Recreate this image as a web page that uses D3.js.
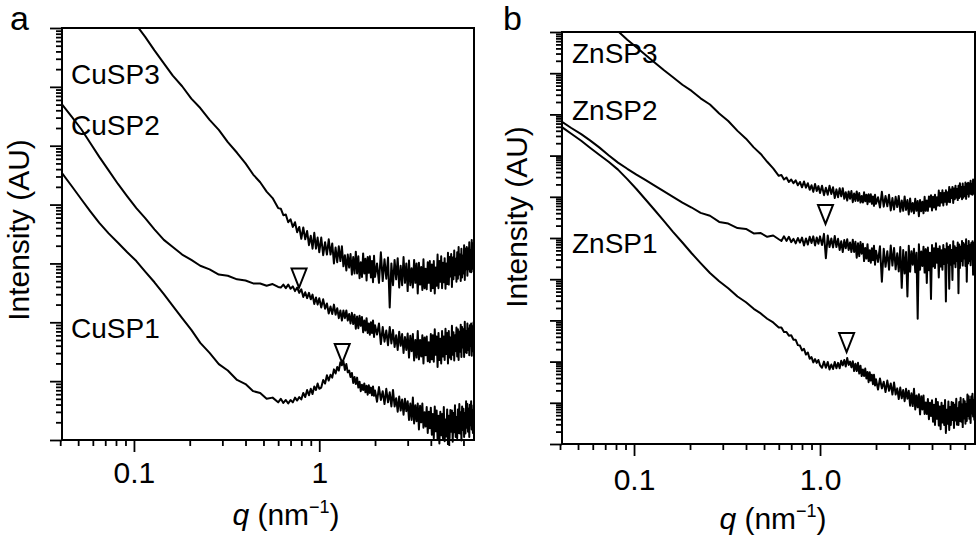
<!DOCTYPE html>
<html><head><meta charset="utf-8">
<script src="https://cdn.jsdelivr.net/npm/d3@7"></script>
<style>body{margin:0;background:#fff}svg{display:block}</style>
</head><body><svg id="c" width="980" height="536"></svg>
<script>
// ---------- DATA (q in nm^-1; intensity stored as log10 of arbitrary units) ----------
const qGrid = [0.041,0.046,0.052,0.058,0.065,0.073,0.082,0.092,0.103,0.115,0.129,0.145,0.162,0.182,0.204,0.228,0.256,0.287,0.321,0.36,0.4,0.44,0.48,0.52,0.56,0.6,
0.62,0.64,0.66,0.68,0.7,0.72,0.74,0.76,0.78,0.8,0.82,0.84,0.86,0.88,0.9,0.92,0.94,0.96,0.98,1.0,
1.025,1.05,1.075,1.1,1.125,1.15,1.175,1.2,1.225,1.25,1.275,1.3,1.325,1.35,1.375,1.4,1.425,1.45,1.475,1.5,1.525,1.55,1.575,1.6,1.625,1.65,1.675,1.7,1.725,1.75,1.775,1.8,1.825,1.85,1.875,1.9,1.925,1.95,1.975,2.0,
2.05,2.1,2.15,2.2,2.25,2.3,2.35,2.4,2.45,2.5,2.55,2.6,2.65,2.7,2.75,2.8,2.85,2.9,2.95,3.0,3.05,3.1,3.15,3.2,3.25,3.3,3.35,3.4,3.45,3.5,3.55,3.6,3.65,3.7,3.75,3.8,3.85,3.9,3.95,4.0,
4.05,4.1,4.15,4.2,4.25,4.3,4.35,4.4,4.45,4.5,4.55,4.6,4.65,4.7,4.75,4.8,4.85,4.9,4.95,5.0,5.05,5.1,5.15,5.2,5.25,5.3,5.35,5.4,5.45,5.5,5.55,5.6,5.65,5.7,5.75,5.8,5.85,5.9,5.95,6.0,
6.05,6.1,6.15,6.2,6.25,6.3,6.35,6.4,6.45,6.5,6.55,6.6,6.65,6.7,6.75,6.8];

const cuSP3 = [null,null,null,null,null,null,null,null,
7.05,6.85,6.62,6.40,6.19,6.01,5.80,5.64,5.44,5.27,5.06,4.88,4.70,4.51,4.38,4.22,4.11,3.94,
3.93,3.82,3.83,3.70,3.75,3.62,3.70,3.53,3.62,3.42,3.61,3.41,3.55,3.31,3.47,3.25,3.52,3.25,3.44,3.19,
3.44,3.14,3.36,3.15,3.41,3.15,3.34,3.00,3.27,3.02,3.29,3.04,3.29,2.95,3.14,2.88,3.15,2.93,3.16,2.81,
3.11,2.83,3.20,2.83,3.12,2.75,3.02,2.77,3.17,2.83,3.08,2.71,3.11,2.84,3.12,2.76,3.04,2.68,3.13,2.77,
3.00,2.67,3.19,2.70,3.07,2.74,3.10,2.25,3.00,2.63,3.06,2.73,3.09,2.59,2.96,2.63,3.11,2.67,3.00,2.53,
3.05,2.63,2.92,2.59,3.06,2.67,3.00,2.49,3.01,2.64,2.94,2.55,3.07,2.58,2.91,2.56,3.02,2.67,3.04,2.53,
2.98,2.58,3.04,2.49,2.93,2.62,3.15,2.58,3.04,2.69,3.12,2.58,3.01,2.68,3.09,2.57,3.00,2.65,3.18,2.64,
3.11,2.78,3.16,2.60,3.10,2.73,3.22,2.80,3.08,2.69,3.19,2.74,3.28,2.81,3.15,2.70,3.25,2.76,3.13,2.83,
3.31,2.72,3.25,2.90,3.28,2.79,3.25,2.90,3.36,2.86,3.22,2.85,3.40,2.91,3.34,2.85];

const cuSP2 = [5.70,5.50,5.28,5.05,4.81,4.58,4.35,4.14,3.94,3.77,3.58,3.40,3.28,3.15,3.06,2.96,2.90,2.81,2.79,2.73,2.71,2.66,2.66,2.62,2.65,2.60,
2.59,2.64,2.58,2.64,2.57,2.61,2.53,2.59,2.50,2.56,2.43,2.51,2.41,2.50,2.39,2.47,2.31,2.42,2.30,2.41,
2.25,2.39,2.23,2.32,2.15,2.27,2.14,2.30,2.13,2.24,2.07,2.20,2.03,2.20,2.07,2.20,2.03,2.14,1.98,2.16,
1.97,2.13,1.89,2.10,1.90,2.11,1.94,2.09,1.83,2.03,1.86,2.07,1.82,1.98,1.79,2.00,1.82,2.03,1.75,1.95,
1.79,1.98,1.63,1.92,1.67,1.86,1.61,1.92,1.64,1.87,1.58,1.78,1.53,1.84,1.60,1.80,1.48,1.75,1.53,1.81,
1.40,1.77,1.51,1.80,1.35,1.70,1.40,1.85,1.37,1.70,1.42,1.78,1.30,1.74,1.44,1.76,1.34,1.66,1.32,1.80,
1.37,1.78,1.33,1.88,1.45,1.76,1.24,1.82,1.36,1.72,1.30,1.85,1.42,1.76,1.36,1.89,1.46,1.82,1.30,1.85,
1.40,1.74,1.37,1.94,1.45,1.83,1.35,1.78,1.51,1.91,1.42,1.88,1.36,1.84,1.50,1.96,1.41,1.92,1.57,1.88,
1.41,2.01,1.49,1.85,1.48,1.98,1.53,1.89,1.44,1.95,1.60,1.98,1.43,1.93,1.51,2.01];

const cuSP1 = [4.53,4.32,4.09,3.89,3.69,3.51,3.35,3.19,3.04,2.86,2.68,2.48,2.28,2.07,1.87,1.65,1.48,1.29,1.18,1.02,0.95,0.83,0.80,0.70,0.72,0.64,
0.70,0.63,0.68,0.62,0.68,0.64,0.72,0.67,0.73,0.69,0.80,0.73,0.85,0.76,0.87,0.78,0.91,0.85,0.96,0.87,
0.89,1.02,0.96,1.10,1.01,1.11,1.06,1.20,1.13,1.24,1.18,1.32,1.27,1.34,1.19,1.29,1.15,1.18,1.07,1.14,
0.97,1.07,0.95,1.06,0.89,0.99,0.83,0.94,0.85,0.96,0.81,0.92,0.77,0.93,0.80,0.89,0.76,0.91,0.75,0.84,
0.65,0.90,0.68,0.83,0.61,0.87,0.64,0.81,0.57,0.85,0.57,0.71,0.48,0.74,0.50,0.69,0.43,0.70,0.49,0.66,
0.34,0.62,0.34,0.72,0.28,0.59,0.32,0.62,0.18,0.58,0.30,0.62,0.21,0.47,0.23,0.56,0.12,0.48,0.20,0.55,
0.09,0.44,0.03,0.57,0.15,0.50,0.01,0.41,-0.06,0.48,0.08,0.44,0.03,0.56,-0.02,0.35,0.06,0.52,-0.08,0.41,
0.03,0.51,0.14,0.50,-0.03,0.46,0.13,0.59,0.05,0.39,0.03,0.52,0.12,0.61,0.11,0.47,-0.01,0.57,0.17,0.53,
0.05,0.46,0.11,0.66,0.21,0.61,0.14,0.53,0.05,0.60,0.25,0.66,0.18,0.51,0.12,0.60];

const znSP3 = [null,null,null,null,null,null,
10.02,9.81,9.63,9.45,9.26,9.07,8.90,8.72,8.57,8.39,8.24,8.02,7.84,7.60,7.41,7.20,7.04,6.85,6.69,6.51,
6.53,6.42,6.47,6.36,6.42,6.33,6.40,6.28,6.36,6.23,6.37,6.22,6.33,6.17,6.28,6.12,6.31,6.14,6.26,6.09,
6.27,6.04,6.22,6.05,6.27,6.07,6.23,5.97,6.18,5.99,6.21,6.01,6.21,5.95,6.11,5.91,6.13,5.95,6.14,5.87,
6.08,5.90,6.13,5.90,6.09,5.86,6.02,5.86,6.11,5.89,6.05,5.82,6.06,5.88,6.06,5.83,6.01,5.78,6.05,5.83,
5.99,5.74,6.12,5.76,6.02,5.77,6.05,5.67,5.97,5.69,6.00,5.75,6.02,5.64,5.91,5.66,6.01,5.68,5.92,5.57,
5.96,5.64,5.85,5.60,5.95,5.66,5.90,5.53,5.92,5.65,5.88,5.60,6.00,5.66,5.91,5.66,6.01,5.76,6.04,5.67,
6.00,5.74,6.05,5.69,5.99,5.79,6.15,5.78,6.09,5.86,6.16,5.79,6.09,5.88,6.16,5.81,6.11,5.88,6.24,5.87,
6.18,5.97,6.24,5.85,6.20,5.94,6.27,5.98,6.19,5.92,6.27,5.97,6.33,6.01,6.24,5.94,6.32,5.98,6.23,6.02,
6.35,5.95,6.31,6.07,6.34,6.00,6.32,6.08,6.39,6.06,6.31,6.05,6.42,6.08,6.38,6.04];

const znSP2 = [7.82,7.67,7.52,7.37,7.20,7.01,6.83,6.68,6.54,6.41,6.27,6.13,6.00,5.86,5.74,5.61,5.54,5.39,5.35,5.24,5.22,5.11,5.12,5.03,5.06,4.97,
4.93,5.04,4.93,5.03,4.90,4.98,4.87,5.00,4.89,5.01,4.82,4.99,4.84,5.03,4.88,5.04,4.82,5.01,4.86,5.04,
4.83,5.10,4.51,5.06,4.78,4.99,4.77,5.05,4.78,4.98,4.71,4.92,4.66,4.95,4.75,4.97,4.71,4.89,4.66,4.96,
4.66,4.91,4.52,4.87,4.56,4.90,4.62,4.86,4.44,4.76,4.50,4.85,4.44,4.70,4.40,4.75,4.46,4.81,4.35,4.69,
4.42,4.80,3.94,4.74,4.30,4.68,4.23,4.82,4.33,4.76,4.24,4.63,4.19,4.78,3.79,4.71,4.14,4.66,3.58,4.81,
4.18,4.68,4.35,4.74,4.17,4.64,3.04,4.85,4.23,4.67,4.32,4.79,4.16,4.73,3.91,4.77,4.22,4.64,3.52,4.83,
4.31,4.75,4.27,4.87,4.40,4.74,4.04,4.80,4.31,4.70,4.23,4.83,4.37,4.73,3.46,4.87,4.40,4.79,3.77,4.83,
4.35,4.71,3.98,4.92,4.38,4.80,4.29,4.76,4.44,4.89,3.66,4.84,4.27,4.79,4.44,4.93,4.33,4.88,4.50,4.84,
4.32,4.97,3.94,4.80,4.38,4.93,4.44,4.83,4.34,4.88,4.50,4.92,4.11,4.87,4.40,4.95];

const znSP1 = [7.69,7.53,7.36,7.19,7.02,6.85,6.66,6.43,6.19,5.94,5.68,5.41,5.15,4.89,4.63,4.39,4.15,3.95,3.78,3.58,3.44,3.28,3.17,3.04,2.95,2.83,
2.83,2.72,2.72,2.63,2.64,2.53,2.53,2.40,2.39,2.27,2.31,2.17,2.22,2.07,2.11,1.98,2.06,1.97,2.04,1.91,
1.85,2.00,1.85,1.99,1.81,1.93,1.82,1.99,1.84,1.97,1.84,2.02,1.91,2.04,1.88,2.09,1.92,2.00,1.86,2.01,
1.77,1.95,1.77,1.97,1.71,1.90,1.65,1.81,1.65,1.83,1.59,1.75,1.50,1.74,1.54,1.68,1.45,1.68,1.42,1.57,
1.32,1.59,1.35,1.51,1.26,1.54,1.29,1.47,1.20,1.49,1.20,1.35,1.09,1.37,1.11,1.31,1.04,1.34,1.10,1.29,
0.93,1.23,0.92,1.34,0.84,1.18,0.89,1.21,0.72,1.16,0.84,1.18,0.73,1.01,0.73,1.09,0.60,1.00,0.68,1.06,
0.54,0.95,0.46,1.10,0.61,1.02,0.45,0.91,0.36,1.00,0.52,0.93,0.46,1.07,0.27,0.83,0.49,1.03,0.34,0.90,
0.46,1.02,0.58,1.00,0.39,0.95,0.57,1.10,0.47,0.87,0.46,1.02,0.56,1.12,0.54,0.96,0.41,1.09,0.62,1.04,
0.49,0.97,0.56,1.20,0.68,1.16,0.61,1.06,0.51,1.15,0.74,1.22,0.67,1.06,0.59,1.15];

// peak markers (tip position): q and log10 intensity
const markerQA = [0.778, 1.33];
const markerIA = [2.59, 1.31];
const markerQB = [1.07, 1.39];
const markerIB = [5.34, 2.23];

// labels and ticks
const seriesNamesA = ["CuSP3", "CuSP2", "CuSP1"];
const seriesNamesB = ["ZnSP3", "ZnSP2", "ZnSP1"];
const xMajorTicks = [0.1, 1];
const xTickLabelsA = ["0.1", "1"];
const xTickLabelsB = ["0.1", "1.0"];
const xMinorTicks = [0.04,0.05,0.06,0.07,0.08,0.09,0.2,0.3,0.4,0.5,0.6,0.7,0.8,0.9,2,3,4,5,6];
const decadesA = 7, decadesB = 10;

// ---------- DRAWING ----------
const FONT = "'Liberation Sans', Arial, Helvetica, sans-serif";
const svg = d3.select("#c");
const defs = svg.append("defs");

function logTicks(nDec) {
  const major = [], minor = [];
  for (let n = 0; n <= nDec; n++) major.push(Math.pow(10, n));
  for (let n = 0; n < nDec; n++) for (let m = 2; m <= 9; m++) minor.push(m * Math.pow(10, n));
  return {major, minor};
}

function drawPanel(cfg) {
  const x = d3.scaleLog().domain(cfg.qDomain).range([cfg.left, cfg.right]);
  const y = d3.scaleLog().domain([1, Math.pow(10, cfg.decades)]).range([cfg.bottom, cfg.top]);
  const g = svg.append("g");

  const clipId = "clip" + cfg.letter;
  defs.append("clipPath").attr("id", clipId).append("rect")
    .attr("x", cfg.left).attr("y", cfg.top)
    .attr("width", cfg.right - cfg.left).attr("height", cfg.bottom - cfg.top + 5);

  const line = d3.line()
    .defined(d => d.v != null)
    .x(d => x(d.q))
    .y(d => y(Math.pow(10, d.v)));

  cfg.series.forEach(s => {
    const data = qGrid.map((q, i) => ({q: q, v: s[i]}));
    g.append("path").datum(data)
      .attr("clip-path", "url(#" + clipId + ")")
      .attr("d", line)
      .attr("fill", "none").attr("stroke", "#000")
      .attr("stroke-width", 2).attr("stroke-linejoin", "round");
  });

  const yt = logTicks(cfg.decades);
  const tickStyle = sel => {
    sel.select(".domain").remove();
    sel.selectAll(".tick line").attr("stroke", "#000").attr("stroke-width", 1.8);
  };
  g.append("g").attr("transform", `translate(${cfg.left},0)`)
    .call(d3.axisLeft(y).tickValues(yt.minor).tickSize(6).tickFormat(""))
    .call(tickStyle);
  g.append("g").attr("transform", `translate(${cfg.left},0)`)
    .call(d3.axisLeft(y).tickValues(yt.major).tickSize(12).tickFormat(""))
    .call(tickStyle);
  g.append("g").attr("transform", `translate(0,${cfg.bottom})`)
    .call(d3.axisBottom(x).tickValues(xMinorTicks).tickSize(6).tickFormat(""))
    .call(tickStyle);
  const xm = g.append("g").attr("transform", `translate(0,${cfg.bottom})`)
    .call(d3.axisBottom(x).tickValues(xMajorTicks).tickSize(12)
      .tickFormat((d, i) => cfg.tickLabels[i]))
    .call(tickStyle);
  xm.selectAll(".tick text")
    .attr("y", cfg.tickLabelOffset).attr("dy", 0)
    .attr("font-family", FONT).attr("font-size", 30).attr("fill", "#000");

  g.append("rect")
    .attr("x", cfg.left).attr("y", cfg.top)
    .attr("width", cfg.right - cfg.left).attr("height", cfg.bottom - cfg.top)
    .attr("fill", "none").attr("stroke", "#000").attr("stroke-width", 2);

  cfg.markerQ.forEach((q, i) => {
    const tx = x(q), ty = y(Math.pow(10, cfg.markerI[i]));
    g.append("path")
      .attr("d", `M${tx},${ty}L${tx - 7.5},${ty - 19}L${tx + 7.5},${ty - 19}Z`)
      .attr("fill", "#fff").attr("stroke", "#000").attr("stroke-width", 2)
      .attr("stroke-linejoin", "miter");
  });

  cfg.names.forEach((n, i) => {
    g.append("text").attr("x", cfg.labelPos[i][0]).attr("y", cfg.labelPos[i][1])
      .attr("font-family", FONT).attr("font-size", 28).attr("fill", "#000").text(n);
  });

  g.append("text").attr("x", cfg.letterPos[0]).attr("y", cfg.letterPos[1])
    .attr("font-family", FONT).attr("font-size", 34).attr("fill", "#000").text(cfg.letter);

  g.append("text")
    .attr("transform", `translate(${cfg.yTitlePos[0]},${cfg.yTitlePos[1]}) rotate(-90)`)
    .attr("text-anchor", "middle").attr("font-family", FONT).attr("font-size", 30)
    .attr("fill", "#000").text("Intensity (AU)");

  const xt = g.append("text").attr("x", cfg.xTitlePos[0]).attr("y", cfg.xTitlePos[1])
    .attr("text-anchor", "middle").attr("font-family", FONT).attr("font-size", 30).attr("fill", "#000");
  xt.append("tspan").attr("font-style", "italic").text("q");
  xt.append("tspan").text(" (nm");
  xt.append("tspan").attr("font-size", 18).attr("dy", -12).text("\u22121");
  xt.append("tspan").attr("dy", 12).text(")");
}

drawPanel({
  letter: "a", left: 62, right: 474, top: 28, bottom: 440,
  qDomain: [0.0409, 6.84], decades: decadesA,
  series: [cuSP3, cuSP2, cuSP1], names: seriesNamesA,
  labelPos: [[71, 84], [71, 135], [71, 338]],
  markerQ: markerQA, markerI: markerIA,
  tickLabels: xTickLabelsA, tickLabelOffset: 43,
  letterPos: [10, 30], yTitlePos: [29, 230], xTitlePos: [286, 525]
});
drawPanel({
  letter: "b", left: 562, right: 975, top: 32, bottom: 444,
  qDomain: [0.0410, 6.81], decades: decadesB,
  series: [znSP3, znSP2, znSP1], names: seriesNamesB,
  labelPos: [[572, 63], [572, 120], [572, 253]],
  markerQ: markerQB, markerI: markerIB,
  tickLabels: xTickLabelsB, tickLabelOffset: 46,
  letterPos: [503, 30], yTitlePos: [527, 217], xTitlePos: [773, 529]
});
</script>
</body></html>
